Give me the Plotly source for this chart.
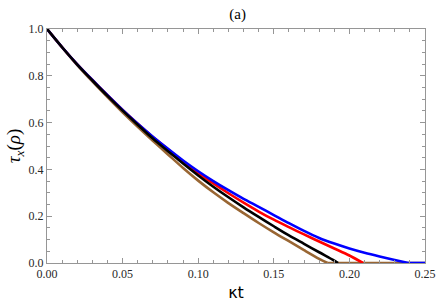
import plotly.graph_objects as go

# Data
blue_x = [0, .01, .02, .03, .04, .05, .06, .07, .08, .09, .10, .11, .12, .13, .14, .15,
          .16, .17, .18, .19, .20, .21, .22, .23, .239]
blue_y = [1.0, .922, .849, .782, .717, .654, .595, .540, .488, .438, .392, .350, .311, .274,
          .240, .205, .170, .137, .107, .083, .062, .044, .028, .013, 0.0]
blue_flat_x = [.239, .25]
blue_flat_y = [0.0, 0.0]

red_x = [0, .01, .02, .03, .04, .05, .06, .07, .08, .09, .10, .11, .12, .13, .14, .15,
         .16, .17, .18, .19, .20, .209]
red_y = [1.0, .922, .849, .782, .717, .654, .595, .538, .486, .434, .384, .340, .298, .258,
         .220, .185, .153, .122, .092, .062, .032, 0.0]

black_x = [0, .01, .02, .03, .04, .05, .06, .07, .08, .09, .10, .11, .12, .13, .14, .15,
           .16, .17, .18, .19, .1925]
black_y = [1.0, .922, .848, .780, .714, .651, .591, .532, .478, .425, .374, .326, .281, .238,
           .197, .157, .118, .082, .046, .010, 0.0]

brown_x = [0, .01, .02, .03, .04, .05, .06, .07, .08, .09, .10, .11, .12, .13, .14, .15,
           .16, .17, .18, .1855]
brown_y = [1.0, .921, .846, .776, .709, .644, .582, .522, .464, .406, .352, .302, .256, .213,
           .171, .131, .093, .055, .018, 0.0]
brown_flat_x = [.1855, .25]
brown_flat_y = [0.0, 0.0]

x_ticks = [0.0, 0.05, 0.10, 0.15, 0.20, 0.25]
x_tick_labels = ["0.00", "0.05", "0.10", "0.15", "0.20", "0.25"]
y_ticks = [0.0, 0.2, 0.4, 0.6, 0.8, 1.0]
y_tick_labels = ["0.0", "0.2", "0.4", "0.6", "0.8", "1.0"]

BROWN = "rgb(153,102,51)"
LW = 2.6
SERIF = "Liberation Serif, Times New Roman, serif"

fig = go.Figure()
fig.add_trace(go.Scatter(x=brown_x, y=brown_y, mode="lines", cliponaxis=False,
                         line=dict(color=BROWN, width=LW, shape="spline", smoothing=0.8)))
fig.add_trace(go.Scatter(x=brown_flat_x, y=brown_flat_y, mode="lines", cliponaxis=False,
                         line=dict(color=BROWN, width=LW)))
fig.add_trace(go.Scatter(x=red_x, y=red_y, mode="lines", cliponaxis=False,
                         line=dict(color="rgb(255,0,0)", width=LW, shape="spline", smoothing=0.8)))
fig.add_trace(go.Scatter(x=blue_x, y=blue_y, mode="lines", cliponaxis=False,
                         line=dict(color="rgb(0,0,255)", width=LW, shape="spline", smoothing=0.8)))
fig.add_trace(go.Scatter(x=blue_flat_x, y=blue_flat_y, mode="lines", cliponaxis=False,
                         line=dict(color="rgb(0,0,255)", width=LW)))
fig.add_trace(go.Scatter(x=black_x, y=black_y, mode="lines", cliponaxis=False,
                         line=dict(color="rgb(0,0,0)", width=LW, shape="spline", smoothing=0.8)))

axis_common = dict(
    showgrid=False, zeroline=False, showline=True, linecolor="rgb(150,150,150)",
    linewidth=1, mirror="ticks", ticks="inside", ticklen=5, tickcolor="rgb(150,150,150)",
    tickfont=dict(family=SERIF, size=12, color="rgb(40,40,40)"),
    ticklabeloverflow="allow",
)

fig.update_xaxes(range=[0, 0.25], tickvals=x_ticks, ticktext=x_tick_labels,
                 minor=dict(dtick=0.01, ticks="inside", ticklen=3, tickcolor="rgb(150,150,150)"),
                 title=dict(text="κt", font=dict(family="DejaVu Sans", size=16, color="black"),
                            standoff=6),
                 **axis_common)
fig.update_yaxes(range=[0, 1], tickvals=y_ticks, ticktext=y_tick_labels,
                 minor=dict(dtick=0.05, ticks="inside", ticklen=3, tickcolor="rgb(150,150,150)"),
                 title=dict(text="<i>τ</i><sub><i>x</i></sub>(<i>ρ</i>)",
                            font=dict(family=SERIF, size=19, color="black"),
                            standoff=2),
                 **axis_common)

fig.update_layout(
    width=436, height=304,
    margin=dict(l=47, r=11, t=29, b=41, autoexpand=False),
    plot_bgcolor="white", paper_bgcolor="white",
    showlegend=False,
    title=dict(text="(a)", x=0.545, xanchor="center", y=0.955, yanchor="middle",
               font=dict(family=SERIF, size=15, color="black")),
)

fig.write_html("out.html", config={"displayModeBar": False},
               post_script="document.body.style.margin='0';document.body.style.overflow='hidden';")
